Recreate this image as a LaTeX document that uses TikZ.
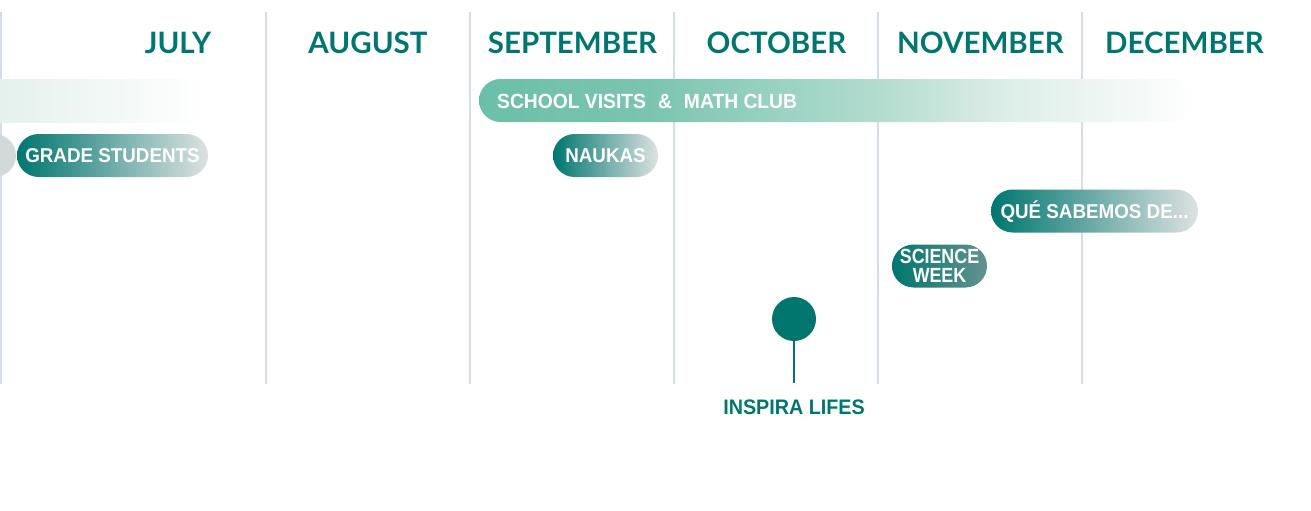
\documentclass[tikz,border=0pt]{standalone}
\usepackage{fontspec}
\newfontfamily\monthfont{Lato}
\newfontfamily\pillfont[FakeStretch=0.94]{Liberation Sans}
\newfontfamily\sciencefont[FakeStretch=0.87]{Liberation Sans}
\definecolor{teal1}{HTML}{00766F}
\definecolor{gridc}{HTML}{D5DCE5}
\definecolor{pillend}{HTML}{DDE2E1}
\definecolor{pillgray}{HTML}{D3D9D9}
\definecolor{sciend}{HTML}{64928F}
\definecolor{julyc}{HTML}{E4F1ED}
\definecolor{s1}{HTML}{6BBFA8}
\definecolor{s2}{HTML}{7BC5B0}
\definecolor{s3}{HTML}{B3DCCF}
\definecolor{s4}{HTML}{DCEDE7}
\pgfdeclarehorizontalshading{schoolshade}{100bp}{color(0bp)=(s1); color(25bp)=(s1); color(37bp)=(s2); color(53bp)=(s3); color(61.5bp)=(s4); color(75bp)=(white); color(100bp)=(white)}
\begin{document}
\begin{tikzpicture}[x=1pt,y=-1pt,
  month/.style={font=\monthfont\bfseries\fontsize{29.5}{29.5}\selectfont, text=teal1, anchor=base, inner sep=0pt},
  gridline/.style={draw=gridc, line width=1.3pt},
  pillbase/.style={rounded corners=21.5pt, minimum height=43pt, inner sep=0pt, left color=teal1, right color=pillend, text=white},
  pill/.style={pillbase, font=\pillfont\bfseries\fontsize{20}{20}\selectfont, text height=14.3pt, text depth=0pt},
  bar/.style={minimum height=43pt, inner sep=0pt}
]
\useasboundingbox (0,0) rectangle (1311,511);
\clip (0,0) rectangle (1311,511);
% grid lines
\draw[gridline] (1,12) -- (1,384);
\draw[gridline] (266,12) -- (266,384);
\draw[gridline] (470,12) -- (470,384);
\draw[gridline] (674,12) -- (674,384);
\draw[gridline] (878,12) -- (878,384);
\draw[gridline] (1082,12) -- (1082,384);
% months
\node[month] (jul) at (178,54) {JULY};
\node[month] (aug) at (368,54) {AUGUST};
\node[month] (sep) at (572.5,54) {SEPTEMBER};
\node[month] (oct) at (776.5,54) {OCTOBER};
\node[month] (nov) at (980.5,54) {NOVEMBER};
\node[month] (dec) at (1184.5,54) {DECEMBER};
% bars
\node[bar, left color=julyc, right color=white, minimum width=205pt, anchor=north west] (julybar) at (0,79) {};
\node[bar, rounded corners=21.5pt, shading=schoolshade, minimum width=716pt] (school) at (837,100.5) {};
\node[anchor=west, inner sep=0pt, text=white, font=\pillfont\bfseries\fontsize{20.5}{20.5}\selectfont, text height=14.6pt, text depth=0pt] (schooltext) at (497,101) {SCHOOL VISITS\hspace{12pt}\&\hspace{12pt}MATH CLUB};
% pills
\fill[pillgray, rounded corners=21.5pt] (-40,134) rectangle (16,177);
\node[pill, minimum width=191pt] (grade) at (112.5,155.5) {GRADE STUDENTS};
\node[pill, minimum width=105pt] (naukas) at (605.5,155.5) {NAUKAS};
\node[pill, minimum width=207pt] (que) at (1094.5,211) {QUÉ SABEMOS DE...};
\node[pillbase, minimum width=95pt, right color=sciend, align=center, font=\sciencefont\bfseries\fontsize{20.5}{18.5}\selectfont] (science) at (939.5,266) {SCIENCE\\WEEK};
% milestone
\node[circle, fill=teal1, minimum size=44pt, inner sep=0pt] (dot) at (794,319) {};
\coordinate (stem) at (794,383);
\draw[teal1, line width=2.8pt] (dot.south) -- (stem);
\node[anchor=base, inner sep=0pt, text=teal1, font=\pillfont\bfseries\fontsize{21}{21}\selectfont] (inspira) at (794,414) {INSPIRA LIFES};
\end{tikzpicture}
\end{document}
